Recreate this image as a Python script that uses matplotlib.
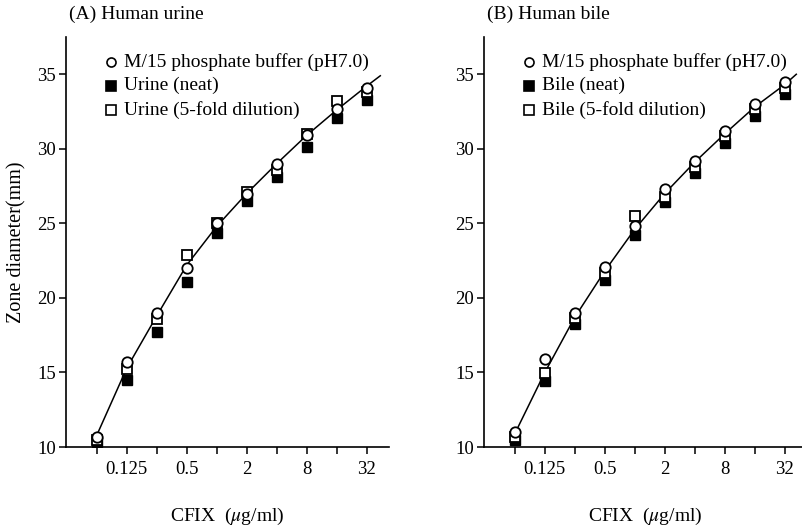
import numpy as np
import matplotlib
matplotlib.use('Agg')
from matplotlib import pyplot as plt

plt.rcParams['font.family'] = ['Liberation Serif', 'DejaVu Serif']
plt.rcParams['mathtext.fontset'] = 'stix'

# CFIX concentrations (ug/ml)
conc = [0.0625, 0.125, 0.25, 0.5, 1, 2, 4, 8, 16, 32]
tick_labels = ['', '0.125', '', '0.5', '', '2', '', '8', '', '32']

# (A) Human urine
urine_buffer = [10.7, 15.7, 19.0, 22.0, 25.0, 27.0, 29.0, 30.9, 32.7, 34.1]
urine_neat = [10.35, 14.5, 17.7, 21.05, 24.35, 26.5, 28.1, 30.15, 32.1, 33.3]
urine_dil = [10.5, 15.2, 18.6, 22.9, 25.0, 27.1, 28.6, 31.0, 33.2, 33.8]
urine_fit_x = [0.0625, 0.125, 0.25, 0.5, 1, 2, 4, 8, 16, 32, 44]
urine_fit_y = [10.8, 15.3, 18.8, 22.2, 24.8, 27.0, 29.0, 30.9, 32.6, 34.2, 34.9]

# (B) Human bile
bile_buffer = [11.0, 15.9, 19.0, 22.1, 24.8, 27.3, 29.2, 31.2, 33.0, 34.5]
bile_neat = [10.5, 14.4, 18.25, 21.2, 24.25, 26.4, 28.4, 30.4, 32.2, 33.7]
bile_dil = [10.7, 14.95, 18.65, 21.7, 25.5, 26.8, 28.8, 30.85, 32.65, 34.1]
bile_fit_x = [0.0625, 0.125, 0.25, 0.5, 1, 2, 4, 8, 16, 32, 42]
bile_fit_y = [10.9, 15.0, 18.7, 21.8, 24.6, 27.0, 29.1, 31.0, 32.8, 34.3, 35.0]


def draw_panel(ax, fit_x, fit_y, buf, neat, dil, labels, title, ylabel):
	ax.plot(fit_x, fit_y, color='black', lw=1.1, zorder=1)
	ax.plot(conc, neat, 's', ms=7, mfc='black', mec='black', zorder=2)
	ax.plot(conc, dil, 's', ms=7, mfc='white', mec='black', mew=1.3, zorder=3)
	ax.plot(conc, buf, 'o', ms=7.5, mfc='white', mec='black', mew=1.3, zorder=4)

	ax.set_xscale('log', base=2)
	ax.set_xlim(2 ** -5.03, 2 ** 5.75)
	ax.set_ylim(10, 37.5)
	ax.set_xticks(conc)
	ax.set_xticklabels(tick_labels)
	ax.minorticks_off()
	ax.set_yticks([10, 15, 20, 25, 30, 35])
	for s in ['top', 'right']:
		ax.spines[s].set_visible(False)
	for s in ['left', 'bottom']:
		ax.spines[s].set_linewidth(1.2)
	ax.tick_params(direction='out', length=5, width=1.1, labelsize=13.5)
	ax.tick_params(axis='x', pad=5)
	ax.tick_params(axis='y', pad=2)

	# legend
	markers = [('o', 'white'), ('s', 'black'), ('s', 'white')]
	for i, (lab, (m, fc)) in enumerate(zip(labels, markers)):
		yy = 0.94 - i * 0.059
		ax.plot([0.14], [yy], m, ms=6.5, mfc=fc, mec='black', mew=1.2,
				transform=ax.transAxes, clip_on=False)
		ax.text(0.18, yy, lab, transform=ax.transAxes, fontsize=14,
				va='center', ha='left')

	ax.text(0.01, 1.056, title, transform=ax.transAxes, fontsize=14,
			ha='left', va='center')
	ax.text(0.5, -0.17, 'CFIX  ($\\mu$g/ml)', transform=ax.transAxes,
			fontsize=14, ha='center', va='center')
	if ylabel:
		ax.set_ylabel(ylabel, fontsize=14.5, labelpad=8)


def main():
	fig = plt.figure(figsize=(8.02, 5.29), dpi=100)
	W, H = 802.0, 529.0
	ax1 = fig.add_axes([66 / W, 82 / H, 323 / W, 410 / H])
	ax2 = fig.add_axes([484 / W, 82 / H, 323 / W, 410 / H])

	draw_panel(ax1, urine_fit_x, urine_fit_y, urine_buffer, urine_neat, urine_dil,
			   ['M/15 phosphate buffer (pH7.0)', 'Urine (neat)', 'Urine (5-fold dilution)'],
			   '(A) Human urine', 'Zone diameter(mm)')
	draw_panel(ax2, bile_fit_x, bile_fit_y, bile_buffer, bile_neat, bile_dil,
			   ['M/15 phosphate buffer (pH7.0)', 'Bile (neat)', 'Bile (5-fold dilution)'],
			   '(B) Human bile', None)

	fig.savefig('out.png', dpi=100)


if __name__ == '__main__':
	main()
